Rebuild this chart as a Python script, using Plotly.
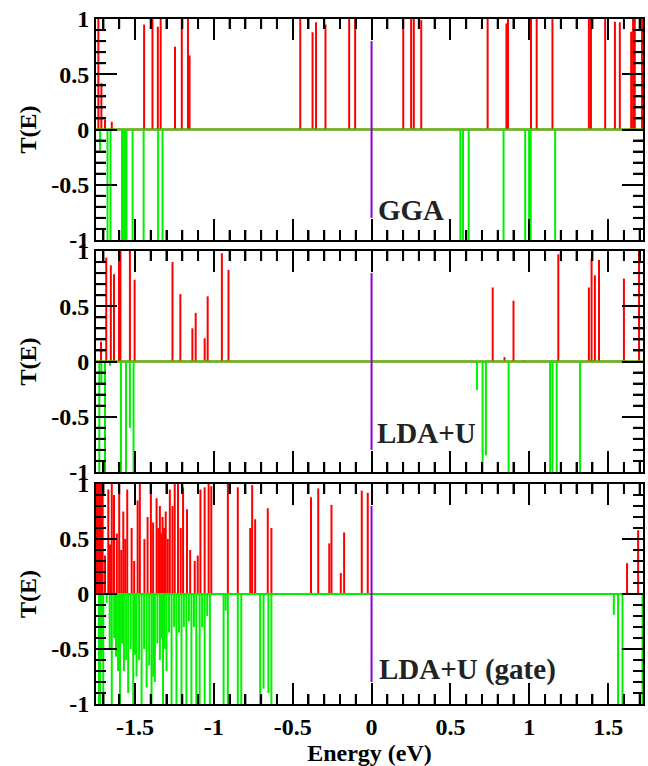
import plotly.graph_objects as go

# ---------------- data (energies in eV, transmission T(E)) ----------------
X_RANGE = [-1.747, 1.721]

gga_up_E = [-1.732, -1.713, -1.690, -1.647, -1.442, -1.389, -1.355, -1.337, -1.246, -1.203,
            -1.164, -1.154, -0.452, -0.374, -0.352, -0.292, -0.142, -0.104, 0.201, 0.251,
            0.268, 0.315, 0.736, 0.855, 0.865, 1.011, 1.047, 1.147, 1.378, 1.391, 1.481,
            1.543, 1.574, 1.646, 1.658, 1.669, 1.715]
gga_up_T = [1.0, 0.42, 0.09, 0.07, 0.95, 1.0, 0.93, 1.0, 0.75, 0.99,
            1.0, 0.67, 1.0, 0.88, 0.97, 0.95, 1.0, 1.0, 1.0, 1.0,
            1.0, 0.99, 1.0, 0.96, 1.0, 1.0, 1.0, 1.0, 1.0, 1.0, 1.0,
            0.975, 0.97, 0.885, 1.0, 1.0, 1.0]
gga_dn_E = [-1.721, -1.674, -1.655, -1.582, -1.570, -1.560, -1.554, -1.515, -1.445, -1.353,
            -1.325, 0.563, 0.580, 0.616, 0.837, 0.974, 0.999, 1.009, 1.164]
gga_dn_T = [-0.19, -1.0, -1.0, -1.0, -1.0, -1.0, -1.0, -1.0, -1.0, -1.0,
            -1.0, -1.0, -1.0, -1.0, -1.0, -1.0, -1.0, -1.0, -1.0]

ldau_up_E = [-1.715, -1.682, -1.653, -1.633, -1.601, -1.592, -1.532, -1.502, -1.262, -1.212,
             -1.136, -1.115, -1.058, -1.039, -0.949, -0.907, 0.768, 0.843, 0.900, 0.970,
             1.184, 1.378, 1.395, 1.416, 1.442, 1.600, 1.696]
ldau_up_T = [0.18, 0.94, 0.87, 0.79, 1.0, 1.0, 1.0, 0.74, 0.90, 0.61,
             0.30, 0.44, 0.21, 0.59, 0.98, 0.83, 0.67, 0.04, 0.55, 0.01,
             0.97, 0.67, 0.93, 0.78, 0.92, 0.75, 1.0]
ldau_dn_E = [-1.726, -1.713, -1.690, -1.658, -1.589, -1.557, -1.532, -1.509, 0.668, 0.704,
             0.725, 0.869, 1.132, 1.147, 1.174, 1.322]
ldau_dn_T = [-1.0, -0.2, -1.0, -0.04, -1.0, -1.0, -0.6, -1.0, -0.26, -1.0,
             -0.85, -1.0, -1.0, -1.0, -1.0, -1.0]

gate_up_E = [-1.745, -1.740, -1.735, -1.730, -1.725, -1.720, -1.715, -1.710, -1.705, -1.690,
             -1.669, -1.658, -1.647, -1.633, -1.615, -1.600, -1.587, -1.574, -1.562, -1.549,
             -1.521, -1.505, -1.483, -1.469, -1.440, -1.420, -1.399, -1.385, -1.363, -1.352,
             -1.342, -1.333, -1.325, -1.315, -1.305, -1.292, -1.279, -1.262, -1.248, -1.227,
             -1.210, -1.195, -1.170, -1.150, -1.121, -1.102, -1.085, -1.058, -1.033, -1.016,
             -0.911, -0.848, -0.769, -0.757, -0.738, -0.658, -0.635, -0.384, -0.338, -0.268,
             -0.254, -0.195, -0.174, -0.062, -0.024, 1.620, 1.690]
gate_up_T = [1.0, 1.0, 1.0, 1.0, 1.0, 1.0, 1.0, 1.0, 1.0, 0.35,
             0.95, 0.45, 1.0, 0.9, 0.55, 1.0, 0.4, 0.75, 0.5, 0.95,
             0.6, 0.3, 0.85, 1.0, 0.5, 0.7, 1.0, 0.65, 0.87, 0.6,
             0.8, 0.55, 0.7, 0.6, 0.75, 0.5, 0.95, 0.8, 1.0, 1.0,
             0.6, 0.97, 0.77, 0.4, 0.3, 0.35, 0.95, 0.97, 1.0, 0.98,
             1.0, 0.97, 0.6, 0.99, 0.68, 0.78, 0.6, 0.88, 0.96, 0.46,
             0.81, 0.19, 0.56, 0.94, 0.92, 0.28, 0.58]
gate_dn_E = [-1.728, -1.721, -1.710, -1.701, -1.679, -1.660, -1.647, -1.632, -1.620, -1.607,
             -1.595, -1.582, -1.570, -1.556, -1.543, -1.527, -1.511, -1.500, -1.490, -1.474,
             -1.458, -1.442, -1.426, -1.410, -1.395, -1.384, -1.374, -1.358, -1.342, -1.332,
             -1.322, -1.311, -1.300, -1.284, -1.268, -1.252, -1.237, -1.221, -1.205, -1.190,
             -1.174, -1.158, -1.142, -1.126, -1.111, -1.090, -1.074, -1.058, -1.042, -1.025,
             -0.938, -0.925, -0.911, -0.848, -0.826, -0.706, -0.685, -0.654, -0.635,
             1.536, 1.563, 1.591, 1.718]
gate_dn_T = [-1.0, -1.0, -0.6, -1.0, -0.08, -0.5, -1.0, -0.4, -0.57, -0.7,
             -1.0, -0.45, -0.7, -0.6, -0.9, -0.5, -1.0, -0.55, -0.75, -0.6,
             -1.0, -0.5, -0.85, -0.65, -1.0, -0.75, -0.8, -0.45, -0.6, -0.4,
             -1.0, -0.5, -0.7, -0.35, -1.0, -0.3, -1.0, -0.35, -1.0, -0.3,
             -1.0, -0.25, -1.0, -0.3, -1.0, -1.0, -0.3, -1.0, -0.2, -1.0,
             -1.0, -0.15, -1.0, -1.0, -1.0, -1.0, -0.86, -0.9, -1.0,
             -0.19, -1.0, -1.0, -1.0]

panel_labels = ["GGA", "LDA+U", "LDA+U (gate)"]
fermi_E = 0.0
fermi_T = [-0.8, 0.8]
Y_RANGE = [-1, 1]
y_tickvals = [-1, -0.5, 0, 0.5, 1]
y_ticktext = ["-1", "-0.5", "0", "0.5", "1"]
y_minorvals = [-0.9, -0.8, -0.7, -0.6, -0.4, -0.3, -0.2, -0.1,
               0.1, 0.2, 0.3, 0.4, 0.6, 0.7, 0.8, 0.9]
x_tickvals = [-1.5, -1, -0.5, 0, 0.5, 1, 1.5]
x_ticktext = ["-1.5", "-1", "-0.5", "0", "0.5", "1", "1.5"]
x_minorvals = [-1.7, -1.6, -1.4, -1.3, -1.2, -1.1, -0.9, -0.8, -0.7, -0.6,
               -0.4, -0.3, -0.2, -0.1, 0.1, 0.2, 0.3, 0.4, 0.6, 0.7, 0.8, 0.9,
               1.1, 1.2, 1.3, 1.4, 1.6, 1.7]

panels = [
    (gga_up_E, gga_up_T, gga_dn_E, gga_dn_T),
    (ldau_up_E, ldau_up_T, ldau_dn_E, ldau_dn_T),
    (gate_up_E, gate_up_T, gate_dn_E, gate_dn_T),
]

# ---------------- figure ----------------
W, H = 648, 766
ML, MR, MT, MB = 96, 3, 19, 62
plot_h = H - MT - MB
plot_w = W - ML - MR
panel_px = [(19, 240), (251, 472), (484, 704)]
domains = [[1 - (b - MT) / plot_h, 1 - (t - MT) / plot_h] for t, b in panel_px]
MINOR_LEN = 10  # px

FONT = "Liberation Serif"
RED = "#ff0000"
GREEN = "#00f000"
PURPLE = "#8e00d2"


def spikes(E, T):
    xs, ys = [], []
    for e, t in zip(E, T):
        xs += [e, e, None]
        ys += [0, t, None]
    return xs, ys


def ax_name(prefix, n):
    return prefix if n == 1 else f"{prefix}{n}"


fig = go.Figure()
for i, (uE, uT, dE, dT) in enumerate(panels):
    xa = ax_name("x", i + 1)
    ya = ax_name("y", i + 1)
    ux, uy = spikes(uE, uT)
    ux = [X_RANGE[0], X_RANGE[1], None] + ux
    uy = [0, 0, None] + uy
    fig.add_trace(go.Scatter(x=ux, y=uy, mode="lines", line=dict(color=RED, width=2),
                             xaxis=xa, yaxis=ya, showlegend=False, hoverinfo="skip"))
    dx, dy = spikes(dE, dT)
    dx = dx + [X_RANGE[0], X_RANGE[1], None]
    dy = dy + [0, 0, None]
    fig.add_trace(go.Scatter(x=dx, y=dy, mode="lines", line=dict(color=GREEN, width=2),
                             xaxis=xa, yaxis=ya, showlegend=False, hoverinfo="skip"))
    fig.add_trace(go.Scatter(x=[fermi_E, fermi_E], y=fermi_T, mode="lines",
                             line=dict(color=PURPLE, width=2),
                             xaxis=xa, yaxis=ya, showlegend=False, hoverinfo="skip"))

tickfont = dict(family=FONT, size=24, color="black", weight="bold")
axis_common = dict(showline=True, linecolor="black", linewidth=2, mirror="ticks",
                   ticks="inside", tickwidth=2, tickcolor="black", ticklen=21,
                   showgrid=False, zeroline=False, tickmode="array")

layout = dict(width=W, height=H, margin=dict(l=ML, r=MR, t=MT, b=MB),
              paper_bgcolor="white", plot_bgcolor="white", showlegend=False)

shapes = []
for i in range(3):
    n = i + 1
    xk, yk = ax_name("xaxis", n), ax_name("yaxis", n)
    xa, ya = ax_name("x", n), ax_name("y", n)
    xd = dict(axis_common, domain=[0, 1], anchor=ya, range=X_RANGE,
              tickvals=x_tickvals, ticktext=x_ticktext,
              minor=dict(ticks="inside", ticklen=MINOR_LEN, tickwidth=2, tickcolor="black",
                         tickmode="array", tickvals=x_minorvals),
              showticklabels=(i == 2), tickfont=tickfont)
    if i == 2:
        xd["title"] = dict(text="Energy (eV)", font=tickfont, standoff=6)
    layout[xk] = xd
    layout[yk] = dict(axis_common, domain=domains[i], anchor=xa, range=Y_RANGE,
                      tickvals=y_tickvals, ticktext=y_ticktext,
                      minor=dict(ticks="inside", ticklen=MINOR_LEN, tickwidth=2,
                                 tickcolor="black", tickmode="array",
                                 tickvals=y_minorvals),
                      tickfont=tickfont,
                      title=dict(text="T(E)", font=tickfont, standoff=8))
    # extra drawn minor ticks (same positions) so the frame shows them on every side
    ph = panel_px[i][1] - panel_px[i][0]
    fy = MINOR_LEN / ph
    fx = MINOR_LEN / plot_w
    for v in x_minorvals:
        shapes.append(dict(type="line", xref=xa, yref=f"{ya} domain",
                           x0=v, x1=v, y0=0, y1=fy, line=dict(color="black", width=2)))
        shapes.append(dict(type="line", xref=xa, yref=f"{ya} domain",
                           x0=v, x1=v, y0=1, y1=1 - fy, line=dict(color="black", width=2)))
    for v in y_minorvals:
        shapes.append(dict(type="line", xref=f"{xa} domain", yref=ya,
                           x0=0, x1=fx, y0=v, y1=v, line=dict(color="black", width=2)))
        shapes.append(dict(type="line", xref=f"{xa} domain", yref=ya,
                           x0=1, x1=1 - fx, y0=v, y1=v, line=dict(color="black", width=2)))

layout["shapes"] = shapes
fig.update_layout(**layout)

label_pos = [(0.03, -0.73), (0.02, -0.65), (0.035, -0.69)]
for i, (txt, (ax_, ay_)) in enumerate(zip(panel_labels, label_pos)):
    fig.add_annotation(x=ax_, y=ay_, xref=ax_name("x", i + 1), yref=ax_name("y", i + 1),
                       text=txt, showarrow=False, xanchor="left", yanchor="middle",
                       font=dict(family=FONT, size=29, color="#222222", weight="bold"))

fig.write_html("out.html")
